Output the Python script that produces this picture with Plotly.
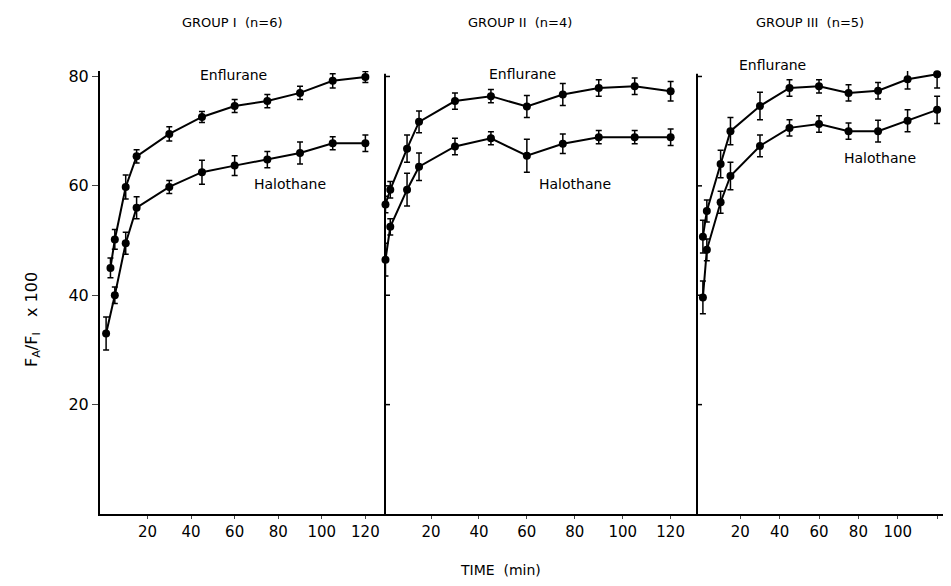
import plotly.graph_objects as go

# sampling times (min)
times = [1, 3, 5, 10, 15, 30, 45, 60, 75, 90, 105, 120]

# FA/FI x 100
g1_enf = [None, 45.0, 50.2, 59.8, 65.4, 69.5, 72.6, 74.6, 75.5, 77.0, 79.2, 79.9]
g1_enf_err = [0, 1.8, 1.8, 2.2, 1.2, 1.3, 1.0, 1.2, 1.2, 1.2, 1.3, 1.0]
g1_hal = [33.0, None, 40.0, 49.5, 56.0, 59.8, 62.5, 63.7, 64.8, 66.0, 67.8, 67.8]
g1_hal_err = [3.0, 0, 1.5, 2.0, 2.0, 1.2, 2.2, 1.8, 1.5, 2.0, 1.2, 1.5]

g2_enf = [56.6, 59.3, None, 66.8, 71.7, 75.5, 76.4, 74.5, 76.7, 77.9, 78.2, 77.3]
g2_enf_err = [1.5, 1.5, 0, 2.5, 2.0, 1.5, 1.2, 2.0, 2.0, 1.5, 1.5, 1.8]
g2_hal = [46.5, 52.5, None, 59.3, 63.5, 67.2, 68.7, 65.5, 67.7, 68.9, 68.9, 68.9]
g2_hal_err = [3.0, 1.5, 0, 3.0, 2.5, 1.5, 1.2, 3.0, 1.8, 1.2, 1.2, 1.5]

g3_enf = [50.7, 55.4, None, 64.0, 70.0, 74.6, 77.9, 78.2, 77.0, 77.4, 79.5, 80.4]
g3_enf_err = [3.0, 2.0, 0, 2.5, 2.5, 2.5, 1.5, 1.2, 1.5, 1.5, 1.8, 2.5]
g3_hal = [39.6, 48.3, None, 57.0, 61.8, 67.3, 70.6, 71.3, 70.0, 70.0, 71.9, 73.9]
g3_hal_err = [3.0, 2.0, 0, 2.0, 2.5, 2.0, 1.5, 1.5, 1.5, 2.0, 2.0, 2.5]

groups = [
    (g1_enf, g1_enf_err, g1_hal, g1_hal_err),
    (g2_enf, g2_enf_err, g2_hal, g2_hal_err),
    (g3_enf, g3_enf_err, g3_hal, g3_hal_err),
]
titles = ["GROUP I  (n=6)", "GROUP II  (n=4)", "GROUP III  (n=5)"]

FONT = "DejaVu Sans"
OFF = 8  # page body margin
W, H = 935, 570
ML, MR, MT, MB = 92, 0, 63, 64
pw = W - ML - MR
ph = H - MT - MB

def px(xpix):
    return (xpix - OFF - ML) / pw

def py(ypix):
    return (H - MB - (ypix - OFF)) / ph

domains = [[0, px(385)], [px(385), px(697)], [px(697), 1]]
xranges = [[-1.8, 129], [0.8, 131], [-2, 123]]

fig = go.Figure()
for i, (enf, enf_e, hal, hal_e) in enumerate(groups):
    xa = "x" if i == 0 else f"x{i+1}"
    for vals, errs in [(enf, enf_e), (hal, hal_e)]:
        fig.add_trace(go.Scatter(
            x=times, y=vals, xaxis=xa, yaxis="y", mode="lines+markers",
            connectgaps=True, cliponaxis=False, showlegend=False,
            line=dict(color="black", width=2),
            marker=dict(color="black", size=8),
            error_y=dict(type="data", array=errs, color="black", thickness=1.5, width=3),
        ))
    key = "xaxis" if i == 0 else f"xaxis{i+1}"
    fig.layout[key] = dict(
        domain=domains[i], range=xranges[i], anchor="y",
        tickvals=[20, 40, 60, 80, 100, 120], ticks="outside", ticklen=3,
        showline=True, linecolor="black", linewidth=2, showgrid=False, zeroline=False,
        tickfont=dict(size=15, color="black", family=FONT),
    )

def note(text, xp, yp, size, angle=0):
    fig.add_annotation(text=text, x=px(xp), y=py(yp), xref="paper", yref="paper",
                       xanchor="center", yanchor="middle", showarrow=False, textangle=angle,
                       font=dict(size=size, family=FONT, color="black"))

for t, xp in zip(titles, [232, 520, 810]):
    note(t, xp, 22, 13)

# extra y-axis lines for panels 2 and 3
for i in (1, 2):
    fig.add_shape(type="line", xref="paper", yref="y", x0=domains[i][0], x1=domains[i][0],
                  y0=0, y1=80.5, line=dict(color="black", width=2))
    for v in (20, 40, 60, 80):
        fig.add_shape(type="line", xref="paper", yref="y", x0=domains[i][0],
                      x1=domains[i][0] + 5 / pw, y0=v, y1=v, line=dict(color="black", width=1.5))

fig.update_layout(
    width=W, height=H, margin=dict(l=ML, r=MR, t=MT, b=MB),
    plot_bgcolor="white", paper_bgcolor="white",
    yaxis=dict(range=[0, 81], tickvals=[20, 40, 60, 80], ticks="outside", ticklen=6,
               showline=True, linecolor="black", linewidth=2, showgrid=False, zeroline=False,
               tickfont=dict(size=16, color="black", family=FONT)),
    font=dict(family=FONT, color="black"),
)

labels = [
    ("Enflurane", 233, 75), ("Halothane", 290, 184),
    ("Enflurane", 522, 74), ("Halothane", 575, 184),
    ("Enflurane", 772, 65), ("Halothane", 880, 158),
]
for txt, xp, yp in labels:
    note(txt, xp, yp, 14)

note("TIME  (min)", 500, 570, 14)
note("F<sub>A</sub>/F<sub>I</sub>   x 100", 32, 320, 16, angle=-90)

fig.write_html("out.html")
